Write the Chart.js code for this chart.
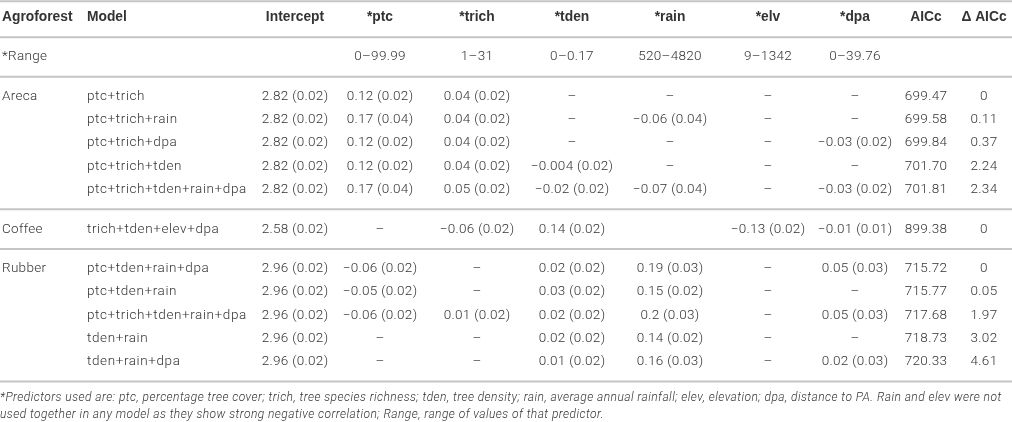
<!DOCTYPE html>
<html>
<head>
<meta charset="utf-8">
<script src="https://cdn.jsdelivr.net/npm/chart.js@4.4.1/dist/chart.umd.min.js"></script>
<style>
  html, body { margin: 0; padding: 0; background: #fff; }
</style>
</head>
<body>
<canvas id="tbl" width="1012" height="422"></canvas>
<script>
// table content
var headers = ['Agroforest', 'Model', 'Intercept', '*ptc', '*trich', '*tden', '*rain', '*elv', '*dpa', 'AICc', '\u0394 AICc'];
var ranges = ['*Range', '', '', '0\u201399.99', '1\u201331', '0\u20130.17', '520\u20134820', '9\u20131342', '0\u201339.76', '', ''];
var groups = ['Areca', 'Coffee', 'Rubber'];
var groupSizes = [5, 1, 5];
var models = ['ptc+trich', 'ptc+trich+rain', 'ptc+trich+dpa', 'ptc+trich+tden', 'ptc+trich+tden+rain+dpa',
  'trich+tden+elev+dpa',
  'ptc+tden+rain+dpa', 'ptc+tden+rain', 'ptc+trich+tden+rain+dpa', 'tden+rain', 'tden+rain+dpa'];
var intercept = ['2.82 (0.02)', '2.82 (0.02)', '2.82 (0.02)', '2.82 (0.02)', '2.82 (0.02)',
  '2.58 (0.02)',
  '2.96 (0.02)', '2.96 (0.02)', '2.96 (0.02)', '2.96 (0.02)', '2.96 (0.02)'];
var ptc = ['0.12 (0.02)', '0.17 (0.04)', '0.12 (0.02)', '0.12 (0.02)', '0.17 (0.04)',
  '\u2013',
  '\u22120.06 (0.02)', '\u22120.05 (0.02)', '\u22120.06 (0.02)', '\u2013', '\u2013'];
var trich = ['0.04 (0.02)', '0.04 (0.02)', '0.04 (0.02)', '0.04 (0.02)', '0.05 (0.02)',
  '\u22120.06 (0.02)',
  '\u2013', '\u2013', '0.01 (0.02)', '\u2013', '\u2013'];
var tden = ['\u2013', '\u2013', '\u2013', '\u22120.004 (0.02)', '\u22120.02 (0.02)',
  '0.14 (0.02)',
  '0.02 (0.02)', '0.03 (0.02)', '0.02 (0.02)', '0.02 (0.02)', '0.01 (0.02)'];
var rain = ['\u2013', '\u22120.06 (0.04)', '\u2013', '\u2013', '\u22120.07 (0.04)',
  '',
  '0.19 (0.03)', '0.15 (0.02)', '0.2 (0.03)', '0.14 (0.02)', '0.16 (0.03)'];
var elv = ['\u2013', '\u2013', '\u2013', '\u2013', '\u2013',
  '\u22120.13 (0.02)',
  '\u2013', '\u2013', '\u2013', '\u2013', '\u2013'];
var dpa = ['\u2013', '\u2013', '\u22120.03 (0.02)', '\u2013', '\u22120.03 (0.02)',
  '\u22120.01 (0.01)',
  '0.05 (0.03)', '\u2013', '0.05 (0.03)', '\u2013', '0.02 (0.03)'];
var aicc = ['699.47', '699.58', '699.84', '701.70', '701.81',
  '899.38',
  '715.72', '715.77', '717.68', '718.73', '720.33'];
var dAicc = ['0', '0.11', '0.37', '2.24', '2.34',
  '0',
  '0', '0.05', '1.97', '3.02', '4.61'];
var footnote = [
  '*Predictors used are: ptc, percentage tree cover; trich, tree species richness; tden, tree density; rain, average annual rainfall; elev, elevation; dpa, distance to PA. Rain and elev were not',
  'used together in any model as they show strong negative correlation; Range, range of values of that predictor.'
];

// layout: column anchors (x scale units = px) and row spacing (y scale units = rows)
var colX = [2, 87, 295, 380, 477, 572, 670, 768, 855, 926, 984];
var colAlign = ['left', 'left', 'center', 'center', 'center', 'center', 'center', 'center', 'center', 'center', 'center'];
var groupGap = 1.7;
var textColor = '#333';
var ruleColor = '#c4c4c4';
var bodyFont = '300 13.5px "Helvetica Neue", Roboto, "Liberation Sans", sans-serif';
var headFont = 'bold 13.8px "Helvetica Neue", "Liberation Sans", Arial, sans-serif';

// row positions
var headerY = 0, rangeY = groupGap;
var rowY = [], groupY = [], rules = [];
var y = rangeY + groupGap;
rules.push(-0.7, groupGap / 2, rangeY + groupGap / 2);
groupSizes.forEach(function (n) {
  groupY.push(y);
  for (var i = 0; i < n; i++) rowY.push(y + i);
  y += n - 1;
  rules.push(y + groupGap / 2);
  y += groupGap;
});

var bodyCols = [models, intercept, ptc, trich, tden, rain, elv, dpa, aicc, dAicc];
var datasets = [];

function textSet(texts, ys, col, font, spacing) {
  return {
    type: 'scatter',
    data: ys.map(function (v) { return { x: colX[col], y: v }; }),
    pointRadius: 0,
    cellText: texts,
    cellAlign: colAlign[col],
    cellFont: font,
    cellSpacing: spacing
  };
}

headers.forEach(function (h, c) {
  datasets.push(textSet([h], [headerY], c, headFont, '0px'));
  datasets.push(textSet([ranges[c]], [rangeY], c, bodyFont, '0.3px'));
});
datasets.push(textSet(groups, groupY, 0, bodyFont, '0.3px'));
bodyCols.forEach(function (arr, c) {
  datasets.push(textSet(arr, rowY, c + 1, bodyFont, c === 0 ? '0.6px' : '0.3px'));
});
rules.forEach(function (r) {
  datasets.push({
    type: 'line',
    data: [{ x: 0, y: r }, { x: 1012, y: r }],
    borderColor: ruleColor,
    borderWidth: 2,
    pointRadius: 0,
    clip: false
  });
});

var cellText = {
  id: 'cellText',
  beforeDraw: function (chart) {
    chart.ctx.letterSpacing = '0.45px'; // used by the footnote title
  },
  beforeDatasetsDraw: function (chart) {
    chart.ctx.letterSpacing = '0px';
  },
  afterDatasetsDraw: function (chart) {
    var ctx = chart.ctx;
    ctx.save();
    ctx.fillStyle = textColor;
    ctx.textBaseline = 'middle';
    chart.data.datasets.forEach(function (ds, i) {
      if (!ds.cellText) return;
      var meta = chart.getDatasetMeta(i);
      ctx.font = ds.cellFont;
      ctx.textAlign = ds.cellAlign;
      ctx.letterSpacing = ds.cellSpacing;
      meta.data.forEach(function (pt, j) {
        ctx.fillText(ds.cellText[j], pt.x, pt.y);
      });
    });
    ctx.restore();
  }
};

new Chart(document.getElementById('tbl'), {
  type: 'scatter',
  data: { datasets: datasets },
  options: {
    responsive: false,
    animation: false,
    layout: { padding: 0 },
    scales: {
      x: { type: 'linear', min: 0, max: 1012, display: false },
      y: { type: 'linear', reverse: true, min: -0.75, max: 15.68, display: false }
    },
    plugins: {
      legend: { display: false },
      tooltip: { enabled: false },
      title: {
        display: true,
        position: 'bottom',
        align: 'start',
        text: footnote,
        color: textColor,
        font: { family: '"Helvetica Neue", Roboto, "Liberation Sans", sans-serif', size: 12, style: 'italic', weight: 300, lineHeight: 1.45 },
        padding: { top: 7, bottom: -2 }
      }
    }
  },
  plugins: [cellText]
});
</script>
</body>
</html>
